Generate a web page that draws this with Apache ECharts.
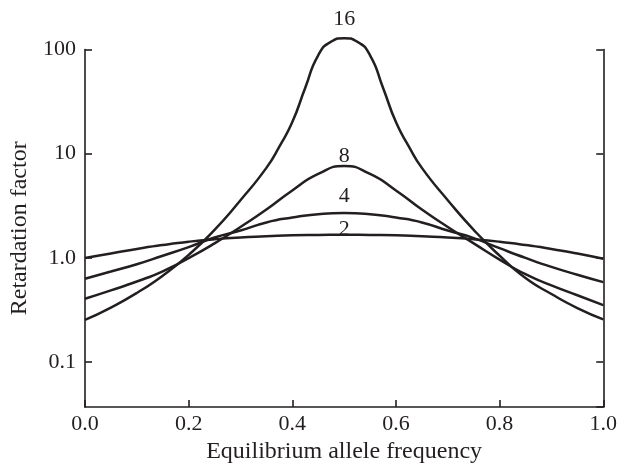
<!DOCTYPE html>
<html>
<head>
<meta charset="utf-8">
<script src="https://cdn.jsdelivr.net/npm/echarts@6/dist/echarts.min.js"></script>
<style>html,body{margin:0;padding:0;background:#fff}#c{width:620px;height:469px}</style>
</head>
<body>
<div id="c"></div>
<script>
// x positions (equilibrium allele frequency)
const xs = [0,0.05,0.1,0.15,0.2,0.25,0.3,0.35,0.4,0.45,0.5,0.55,0.6,0.65,0.7,0.75,0.8,0.85,0.9,0.95,1];
const xs16 = [0,0.05,0.1,0.15,0.2,0.25,0.3,0.35,0.375,0.4,0.425,0.45,0.475,0.5,0.525,0.55,0.575,0.6,0.625,0.65,0.7,0.75,0.8,0.85,0.9,0.95,1];
// retardation factor curves
const r2 = [1.00,1.10,1.22,1.33,1.43,1.51,1.57,1.61,1.65,1.66,1.67,1.66,1.65,1.61,1.57,1.51,1.43,1.33,1.22,1.10,0.98];
const r4 = [0.63,0.74,0.87,1.05,1.27,1.57,1.83,2.19,2.44,2.63,2.70,2.63,2.44,2.19,1.83,1.55,1.24,1.00,0.82,0.69,0.585];
const r8 = [0.406,0.488,0.594,0.744,0.996,1.38,1.98,2.91,4.44,6.39,7.61,6.39,4.44,2.91,1.98,1.38,0.964,0.697,0.545,0.438,0.352];
const r16 = [0.254,0.334,0.461,0.675,1.07,1.86,3.58,7.31,11.7,20.1,43,88,119,128.5,119,88,43,20.1,11.7,7.31,3.58,1.86,1.05,0.64,0.45,0.33,0.257];
const curveNames = ['2','4','8','16'];
const xTicks = [0,0.2,0.4,0.6,0.8,1.0];
const yTicks = [0.1,1,10,100];

const INK = '#231f20';
const FONT = '"Liberation Serif", "Times New Roman", serif';
const pair = (x, y) => x.map((v, i) => [v, y[i]]);
const labelDist = {'2': -6, '4': 5, '8': -2, '16': 7};

function mkSeries(name, x, y) {
  let pi = 0;
  y.forEach((v, i) => { if (v > y[pi]) pi = i; });
  const data = pair(x, y).map((d, i) => i === pi ? {
    value: d, symbol: 'circle', symbolSize: 1,
    itemStyle: {color: 'rgba(0,0,0,0)'},
    label: {show: true, position: 'top', distance: labelDist[name], formatter: name,
      color: INK, fontFamily: FONT, fontSize: 22}
  } : {value: d, symbol: 'none'});
  return {
    type: 'line', name: name, data: data, smooth: 0.55,
    showSymbol: true, showAllSymbol: true, clip: false,
    lineStyle: {color: INK, width: 2.5},
    emphasis: {disabled: true}
  };
}

const yLab = v => {
  const m = yTicks.find(t => Math.abs(Math.log10(v) - Math.log10(t)) < 1e-6);
  if (m === undefined) return '';
  return m >= 10 ? String(m) : m.toFixed(1);
};

const chart = echarts.init(document.getElementById('c'), null, {renderer: 'canvas'});
const axisCommon = {
  type: 'log', logBase: 10, min: 0.037, max: 100,
  axisLine: {show: true, lineStyle: {color: INK, width: 1.6}},
  axisTick: {show: true, inside: true, length: 7, lineStyle: {color: INK, width: 1.6}},
  splitLine: {show: false}, minorTick: {show: false}
};
chart.setOption({
  animation: false,
  backgroundColor: '#fff',
  grid: {left: 85, right: 16, top: 49.5, bottom: 59},
  xAxis: {
    type: 'value', min: 0, max: 1, interval: 0.2,
    name: 'Equilibrium allele frequency', nameLocation: 'middle', nameGap: 27,
    nameTextStyle: {color: INK, fontFamily: FONT, fontSize: 24},
    axisLine: {show: true, lineStyle: {color: INK, width: 1.6}},
    axisTick: {show: true, inside: true, length: 7, lineStyle: {color: INK, width: 1.6}},
    axisLabel: {margin: 6, color: INK, fontFamily: FONT, fontSize: 22,
      formatter: v => { const m = xTicks.find(t => Math.abs(t - v) < 1e-6); return m === undefined ? '' : m.toFixed(1); }},
    splitLine: {show: false}
  },
  yAxis: [
    Object.assign({}, axisCommon, {
      position: 'left',
      name: 'Retardation factor', nameLocation: 'middle', nameGap: 53,
      nameTextStyle: {color: INK, fontFamily: FONT, fontSize: 24},
      axisLabel: {margin: 9, color: INK, fontFamily: FONT, fontSize: 22, showMinLabel: false, formatter: yLab}
    }),
    Object.assign({}, axisCommon, {
      position: 'right',
      axisLabel: {show: false}
    })
  ],
  series: [
    mkSeries(curveNames[0], xs, r2),
    mkSeries(curveNames[1], xs, r4),
    mkSeries(curveNames[2], xs, r8),
    mkSeries(curveNames[3], xs16, r16)
  ]
});
</script>
</body>
</html>
